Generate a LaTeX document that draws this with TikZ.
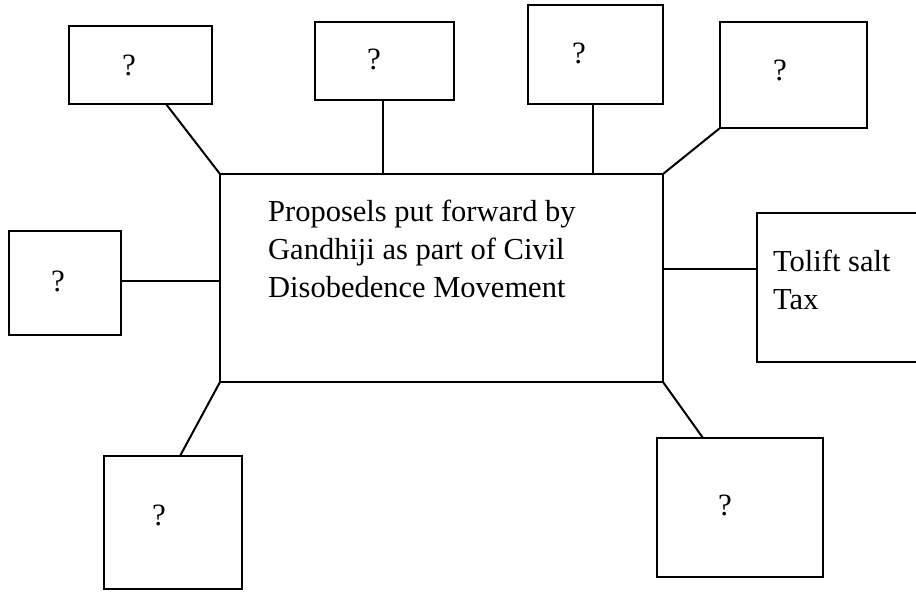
\documentclass[tikz,border=0pt]{standalone}
\usepackage{fontspec}
\setmainfont{Liberation Serif}
\newfontfamily\diagfont{Liberation Serif}
\begin{document}
\begin{tikzpicture}[x=1pt,y=-1pt,
  box/.style={draw=black,line width=2pt,rectangle,inner sep=0pt,outer sep=0pt},
  link/.style={draw=black,line width=2pt},
  qmark/.style={inner sep=0pt,font=\diagfont\fontsize{31}{38}\selectfont},
  txt/.style={inner sep=0pt,align=left,anchor=north west,font=\diagfont\fontsize{30.5}{38}\selectfont}]
  \useasboundingbox (0,0) rectangle (916,592);

  % central topic box
  \node[box,line width=2.4pt,minimum width=443pt,minimum height=208pt] (main) at (441.5,278) {};
  \node[txt] (maintext) at (268,199.5) {Proposels put forward by\\Gandhiji as part of Civil\\Disobedence Movement};

  % surrounding boxes
  \node[box,minimum width=143pt,minimum height=78pt]  (b1) at (140.5,65)   {};
  \node[box,minimum width=139pt,minimum height=78pt]  (b2) at (384.5,61)   {};
  \node[box,minimum width=135pt,minimum height=99pt]  (b3) at (595.5,54.5) {};
  \node[box,minimum width=147pt,minimum height=106pt] (b4) at (793.5,75)   {};
  \node[box,minimum width=112pt,minimum height=104pt] (lb) at (65,283)     {};
  \node[box,minimum width=163pt,minimum height=149pt] (rb) at (838.5,287.5) {};
  \node[box,minimum width=138pt,minimum height=133pt] (bl) at (173,522.5)  {};
  \node[box,minimum width=166pt,minimum height=139pt] (br) at (740,507.5)  {};

  % box texts
  \node[qmark] (q1) at (129,65)  {?};
  \node[qmark] (q2) at (374,59)  {?};
  \node[qmark] (q3) at (579,53)  {?};
  \node[qmark] (q4) at (780,70)  {?};
  \node[qmark] (q5) at (58,281)  {?};
  \node[qmark] (q6) at (159,515) {?};
  \node[qmark] (q7) at (725,505) {?};
  \node[txt] (rtext) at (773,250) {Tolift salt\\Tax};

  % connectors
  \draw[link] ([xshift=25.5pt]b1.south) -- (main.north west);
  \draw[link] ([xshift=-1.5pt]b2.south) -- ([xshift=-1.5pt]b2.south |- main.north);
  \draw[link] ([xshift=-2.5pt]b3.south) -- ([xshift=-2.5pt]b3.south |- main.north);
  \draw[link] (b4.south west) -- (main.north east);
  \draw[link] ([yshift=2pt]lb.east) -- ([yshift=2pt]lb.east -| main.west);
  \draw[link] ([yshift=18.5pt]rb.west) -- ([yshift=18.5pt]rb.west -| main.east);
  \draw[link] ([xshift=7pt]bl.north) -- (main.south west);
  \draw[link] ([xshift=-37pt]br.north) -- (main.south east);
\end{tikzpicture}
\end{document}
